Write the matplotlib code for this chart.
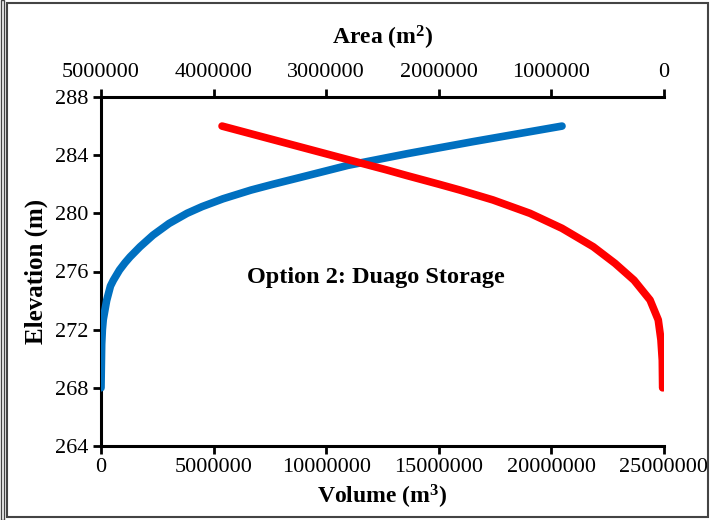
import matplotlib
matplotlib.use("Agg")
import matplotlib.pyplot as plt
from matplotlib.ticker import FuncFormatter
from matplotlib.patches import Rectangle

plt.rcParams['font.family'] = ['Liberation Serif', 'DejaVu Serif']
plt.rcParams['mathtext.default'] = 'regular'

# Volume curve (bottom axis)
vol_elev = [268, 270, 271, 272, 272.7, 274, 275.0, 275.4, 276.1, 276.6, 277.0, 277.7, 278.5,
            279.3, 280.0, 280.46, 281.0, 281.6, 282.0, 282.5, 283.3, 284.1, 284.93, 286]
volume = [0, 0.02e6, 0.03e6, 0.06e6, 0.10e6, 0.25e6, 0.42e6, 0.55e6, 0.82e6, 1.066e6, 1.288e6,
          1.732e6, 2.309e6, 3.02e6, 3.819e6, 4.485e6, 5.417e6, 6.661e6, 7.638e6, 8.925e6,
          10.968e6, 13.59e6, 16.519e6, 20.471e6]

# Area curve (top axis, reversed)
area_elev = [268, 269.9, 271.3, 272.67, 274.04, 275.4, 276.56, 277.7, 278.97, 280.0, 280.92,
             281.6, 282.0, 282.6, 283.0, 284.0, 285.0, 286]
area = [0.012e6, 0.015e6, 0.027e6, 0.051e6, 0.124e6, 0.266e6, 0.435e6, 0.628e6, 0.906e6, 1.19e6,
        1.519e6, 1.812e6, 1.998e6, 2.285e6, 2.47e6, 2.955e6, 3.44e6, 3.925e6]

vol_ticks = [0, 5000000, 10000000, 15000000, 20000000, 25000000]
area_ticks = [5000000, 4000000, 3000000, 2000000, 1000000, 0]
elev_ticks = [264, 268, 272, 276, 280, 284, 288]

fig = plt.figure(figsize=(7.21, 5.2), dpi=100)
ax = fig.add_axes([101/721, 1 - 446/520, (664-101)/721, (446-97)/520])
ax2 = ax.twiny()

ax.plot(volume, vol_elev, color='#0070C0', lw=5.5, solid_capstyle='round',
        solid_joinstyle='round', zorder=3)
ax2.plot(area, area_elev, color='#FF0000', lw=5.5, solid_capstyle='round',
         solid_joinstyle='round', zorder=3)

ax.set_xlim(0, 25000000)
ax.set_ylim(264, 288)
ax2.set_xlim(5000000, 0)
ax.set_xticks(vol_ticks)
ax2.set_xticks(area_ticks)
ax.set_yticks(elev_ticks)

fmt = FuncFormatter(lambda v, p: f"{int(round(v))}")
ax.xaxis.set_major_formatter(fmt)
ax2.xaxis.set_major_formatter(fmt)
ax.yaxis.set_major_formatter(fmt)

for a in (ax, ax2):
    for s in a.spines.values():
        s.set_linewidth(2.2)
    a.spines['right'].set_visible(False)
ax.spines['top'].set_visible(False)
ax2.spines['bottom'].set_visible(False)
ax2.spines['left'].set_visible(False)

ax.tick_params(axis='both', direction='out', length=6, width=2, labelsize=16, pad=3)
ax2.tick_params(axis='x', direction='out', length=6, width=2, labelsize=16, pad=5)

ax.set_xlabel('Volume (m$^3$)', fontsize=17, fontweight='bold', labelpad=4)
ax2.set_xlabel('Area (m$^2$)', fontsize=17, fontweight='bold', labelpad=13)
ax.set_ylabel('Elevation (m)', fontsize=18, fontweight='bold', labelpad=5)

ax.text(12.2e6, 275.6, 'Option 2: Duago Storage', fontsize=17.5, fontweight='bold',
        ha='center', va='center')

fig.patches.append(Rectangle((7/721, 3/520), (708-7)/721, (517-3)/520, transform=fig.transFigure,
                             fill=False, edgecolor='#444444', lw=1.5))
fig.patches.append(Rectangle((1/721, 0), 3/721, 1, transform=fig.transFigure,
                             fill=False, edgecolor='#444444', lw=1))

fig.savefig('out.png', dpi=100)
